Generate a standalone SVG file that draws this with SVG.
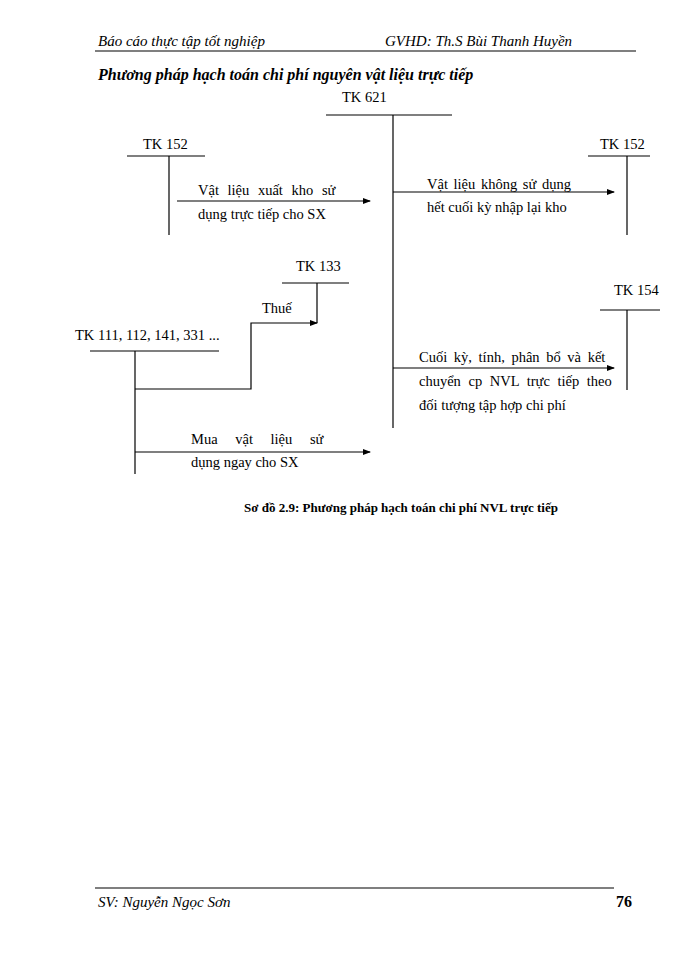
<svg xmlns="http://www.w3.org/2000/svg" width="700" height="960" viewBox="0 0 700 960">
<style>
text{font-family:"Liberation Serif","Times New Roman",serif;font-size:14.5px;fill:#000}
.hd{font-style:italic;font-size:15px}
.ln{stroke:#000;stroke-width:1.2;fill:none}
</style>
<defs><marker id="a" markerWidth="8" markerHeight="8" refX="7" refY="4" orient="auto" markerUnits="userSpaceOnUse"><path d="M0,1 L8,4 L0,7 Z" fill="#000"/></marker></defs>
<rect width="700" height="960" fill="#fff"/>
<text class="hd" x="98" y="46">Báo cáo thực tập tốt nghiệp</text>
<text class="hd" x="385" y="46">GVHD:  Th.S Bùi Thanh Huyền</text>
<line class="ln" x1="95" y1="51" x2="636" y2="51" stroke-width="1.6"/>
<text x="98" y="80" style="font-weight:bold;font-style:italic;font-size:16px">Phương pháp hạch toán chi phí nguyên vật liệu trực tiếp</text>
<g id="tk621"><text x="342" y="102">TK  621</text><line class="ln" x1="326" y1="115" x2="452" y2="115"/><line class="ln" x1="393" y1="115" x2="393" y2="428"/></g>
<g id="tk152a"><text x="143" y="149">TK  152</text><line class="ln" x1="127" y1="156" x2="205" y2="156"/><line class="ln" x1="169" y1="156" x2="169" y2="235"/></g>
<g id="tk152b"><text x="600" y="149">TK  152</text><line class="ln" x1="588" y1="156" x2="650" y2="156"/><line class="ln" x1="627" y1="156" x2="627" y2="235"/></g>
<g id="tk133"><text x="296" y="271">TK  133</text><line class="ln" x1="282" y1="283" x2="349" y2="283"/><line class="ln" x1="317" y1="283" x2="317" y2="323"/></g>
<g id="tk111"><text x="75" y="340">TK  111, 112, 141, 331 ...</text><line class="ln" x1="90" y1="351" x2="219" y2="351"/><line class="ln" x1="135" y1="351" x2="135" y2="474"/></g>
<g id="tk154"><text x="614" y="295">TK  154</text><line class="ln" x1="600" y1="310" x2="660" y2="310"/><line class="ln" x1="627" y1="310" x2="627" y2="390"/></g>
<g id="connectors">
<line class="ln" x1="177" y1="201" x2="370" y2="201" marker-end="url(#a)"/>
<line class="ln" x1="393" y1="192" x2="614" y2="192" marker-end="url(#a)"/>
<polyline class="ln" points="135,389 251,389 251,323 317,323" marker-end="url(#a)"/>
<line class="ln" x1="393" y1="368" x2="614" y2="368" marker-end="url(#a)"/>
<line class="ln" x1="135" y1="452" x2="370" y2="452" marker-end="url(#a)"/>
</g>
<text x="198" y="195" word-spacing="5">Vật liệu xuất kho sử</text>
<text x="198" y="219">dụng trực tiếp cho SX</text>
<text x="427" y="189" word-spacing="2">Vật liệu không sử dụng</text>
<text x="427" y="212">hết cuối kỳ nhập  lại kho</text>
<text x="262" y="313">Thuế</text>
<text x="419" y="362" word-spacing="3">Cuối kỳ, tính, phân bổ và kết</text>
<text x="419" y="386" word-spacing="4">chuyển cp NVL trực tiếp theo</text>
<text x="419" y="410">đối tượng tập hợp chi phí</text>
<text x="191" y="444" word-spacing="14">Mua vật liệu sử</text>
<text x="191" y="467">dụng ngay cho SX</text>
<text x="401" y="512" text-anchor="middle" style="font-weight:bold;font-size:13px">Sơ đồ 2.9: Phương pháp  hạch toán chi phí NVL  trực tiếp</text>
<line class="ln" x1="95" y1="888" x2="614" y2="888" stroke-width="1.6"/>
<text class="hd" x="98" y="907">SV: Nguyễn Ngọc Sơn</text>
<text x="616" y="907" style="font-weight:bold;font-size:16px">76</text>
</svg>
